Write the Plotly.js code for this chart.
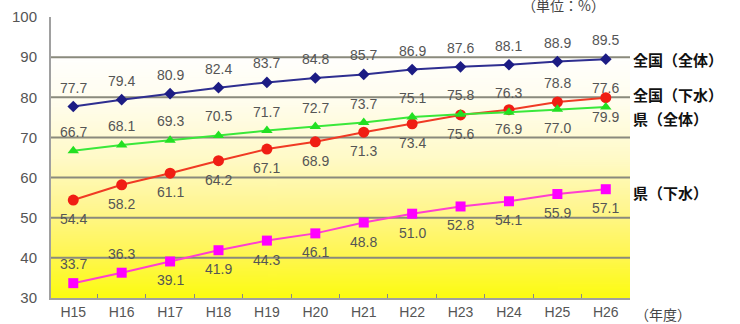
<!DOCTYPE html>
<html>
<head>
<meta charset="utf-8">
<script src="https://cdn.plot.ly/plotly-3.0.1.min.js"></script>
<style>html,body{margin:0;padding:0;background:#fff}#chart{width:740px;height:324px}</style>
</head>
<body>
<div id="chart"></div>
<script>
// ---- data ----
const years = ['H15','H16','H17','H18','H19','H20','H21','H22','H23','H24','H25','H26'];
const zenkokuZentai = [77.7,79.4,80.9,82.4,83.7,84.8,85.7,86.9,87.6,88.1,88.9,89.5];
const zenkokuGesui  = [54.4,58.2,61.1,64.2,67.1,68.9,71.3,73.4,75.6,76.9,78.8,79.9];
const kenZentai     = [66.7,68.1,69.3,70.5,71.7,72.7,73.7,75.1,75.8,76.3,77.0,77.6];
const kenGesui      = [33.7,36.3,39.1,41.9,44.3,46.1,48.8,51.0,52.8,54.1,55.9,57.1];
const seriesNames = ['全国（全体）','全国（下水）','県（全体）','県（下水）'];
const yTicks = [30,40,50,60,70,80,90,100];
const gridVals = [40,50,60,70,80,90];

// ---- styles ----
const colors = ['#1c1c84','#f01e14','#22e022','#ff00ff'];
const lineColors = ['#2e2e90','#f03a24','#3ae83a','#ff3fd0'];
const symbols = ['diamond','circle','triangle-up','square'];
const msizes = [9,11,10,10];
// +1 = label above, -1 = label below
const labelDir = [
  [1,1,1,1,1,1,1,1,1,1,1,1],
  [-1,-1,-1,-1,-1,-1,-1,-1,-1,-1,1,-1],
  [1,1,1,1,1,1,1,1,1,1,-1,1],
  [1,1,-1,-1,-1,-1,-1,-1,-1,-1,-1,-1]
];
// right-side name label positions (y in data units)
const nameY = [89.3,80.6,74.6,56.2];

const allSeries = [zenkokuZentai, zenkokuGesui, kenZentai, kenGesui];

// gradient background image
const cv = document.createElement('canvas');
cv.width = 4; cv.height = 300;
const ctx = cv.getContext('2d');
const g = ctx.createLinearGradient(0,0,0,300);
g.addColorStop(0,'#ffffff');
g.addColorStop(0.12,'#ffffff');
g.addColorStop(0.3,'#fffdee');
g.addColorStop(0.5,'#fffac8');
g.addColorStop(0.68,'#fff690');
g.addColorStop(0.85,'#fff650');
g.addColorStop(1,'#fcfc10');
ctx.fillStyle = g; ctx.fillRect(0,0,4,300);
const bgUrl = cv.toDataURL('image/png');

const traces = allSeries.map((vals,i)=>({
  x: years, y: vals, type:'scatter', mode:'lines+markers', name: seriesNames[i],
  line:{color: lineColors[i], width:2},
  marker:{symbol: symbols[i], size: msizes[i], color: colors[i]},
  hoverinfo:'x+y'
}));

const labelFont = {family:'"Liberation Sans Narrow", "Liberation Sans", Arial, sans-serif', size:14, color:'#555'};
const annotations = [];
allSeries.forEach((vals,i)=>{
  vals.forEach((v,j)=>{
    annotations.push({x: years[j], y: v, xref:'x', yref:'y', text: v.toFixed(1),
      showarrow:false, yshift: 19*labelDir[i][j], font: labelFont});
  });
});
seriesNames.forEach((n,i)=>{
  annotations.push({xref:'paper', x:1.002, xanchor:'left', yref:'y', y:nameY[i], text:'<b>'+n+'</b>',
    showarrow:false, font:{family:'"Noto Sans CJK JP", sans-serif', size:15, color:'#111'}});
});
annotations.push({xref:'paper', x:1.005, xanchor:'left', yref:'paper', y:-0.0, yanchor:'top', yshift:-4,
  text:'（年度）', showarrow:false, font:{family:'"Noto Sans CJK JP", sans-serif', size:14, color:'#444'}});
annotations.push({xref:'paper', x:0.885, xanchor:'center', yref:'paper', y:1, yanchor:'bottom', yshift:0,
  text:'（単位：%）', showarrow:false, font:{family:'"Noto Sans CJK JP", sans-serif', size:14, color:'#444'}});

const shapes = gridVals.map(v=>({type:'line', xref:'paper', x0:0, x1:1, yref:'y', y0:v, y1:v,
  line:{color:'#8a8a7c', width:2}, layer:'below'}));

const layout = {
  width:740, height:324,
  margin:{l:51, r:110, t:17, b:26},
  paper_bgcolor:'#ffffff', plot_bgcolor:'rgba(0,0,0,0)',
  showlegend:false,
  font:{family:'"Liberation Sans", Arial, sans-serif', size:14, color:'#555'},
  xaxis:{type:'category', categoryorder:'array', categoryarray: years, range:[-0.46,11.5],
    showgrid:false, showline:true, linecolor:'#a0a0a0', linewidth:2,
    ticks:'inside', tickson:'boundaries', ticklen:4, tickcolor:'#888', tickwidth:1,
    tickfont:{size:14, color:'#555'}, fixedrange:true},
  yaxis:{range:[30,100], tickvals:yTicks, showgrid:false, zeroline:false,
    showline:true, linecolor:'#a0a0a0', linewidth:2, ticks:'', ticklabelstandoff:9,
    tickfont:{size:15, color:'#555'}, fixedrange:true},
  images:[{source:bgUrl, xref:'paper', yref:'paper', x:0, y:1, sizex:1, sizey:1,
    sizing:'stretch', xanchor:'left', yanchor:'top', layer:'below'}],
  shapes: shapes,
  annotations: annotations
};

Plotly.newPlot('chart', traces, layout, {displayModeBar:false, staticPlot:true});
</script>
</body>
</html>
